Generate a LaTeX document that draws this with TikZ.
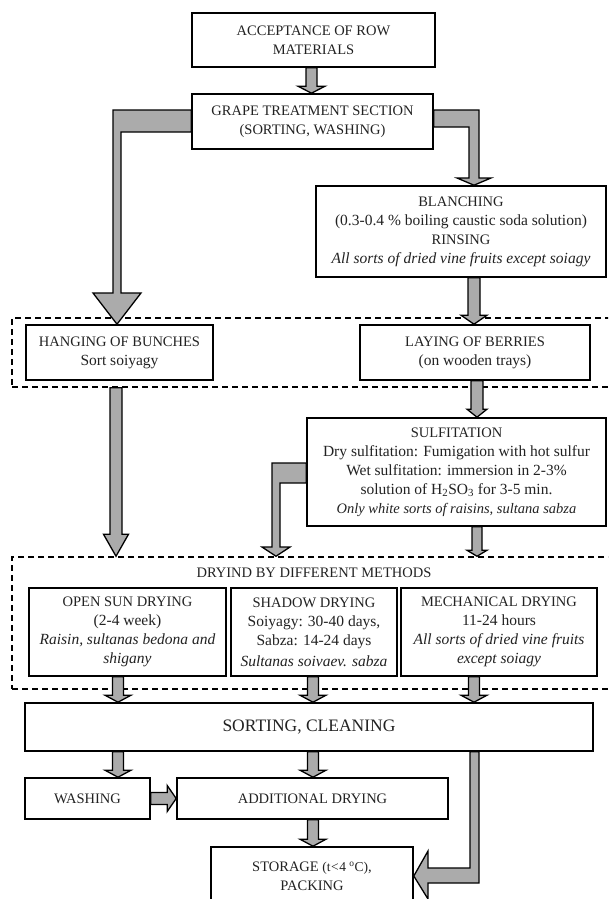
\documentclass[tikz,border=0pt]{standalone}
\usepackage{fontspec}
\setmainfont{Liberation Serif}
\usetikzlibrary{calc}
\definecolor{arrgray}{HTML}{ABABAB}
\definecolor{txt}{HTML}{222222}
\newcommand\lc{\fontsize{15.5}{19}\selectfont}
\tikzset{
  box/.style={draw=black, line width=1.6pt, fill=white, inner sep=0pt, align=center,
    text=txt, font=\fontsize{14.5}{19}\selectfont},
  dashbox/.style={draw=black, line width=1.5pt, dash pattern=on 6pt off 4pt, inner sep=0pt},
  arr/.style={draw=black, line width=1.3pt, fill=arrgray, line join=miter},
  lbl/.style={text=txt, font=\fontsize{14.5}{19}\selectfont, inner sep=0pt}
}
\newcommand\blockdown[5]{%
  \draw[arr] let \p1=(#1), \p2=(#2) in
  (\x1-#3pt,\y1) -- (\x1-#3pt,\y2+#5pt) -- (\x1-#4pt,\y2+#5pt) -- (\x1,\y2)
  -- (\x1+#4pt,\y2+#5pt) -- (\x1+#3pt,\y2+#5pt) -- (\x1+#3pt,\y1) -- cycle;}
\begin{document}
\begin{tikzpicture}[x=1pt,y=-1pt]
\useasboundingbox (0,0) rectangle (608,899);
\clip (0,0) rectangle (608,899);

% dashed groups
\node[dashbox, minimum width=600pt, minimum height=69pt] (d1) at (312,352.5) {};
\node[dashbox, minimum width=600pt, minimum height=132pt] (d2) at (312,623) {};

% boxes
\node[box, minimum width=243pt, minimum height=54pt] (acc) at (313.5,40) {ACCEPTANCE OF ROW\\MATERIALS};
\node[box, minimum width=241pt, minimum height=55pt] (grape) at (312.5,121.5) {GRAPE TREATMENT SECTION\\(SORTING, WASHING)};
\node[box, minimum width=290pt, minimum height=91pt] (blanch) at (461,231.5) {BLANCHING\\{\lc(0.3-0.4 \% boiling caustic soda solution)}\\RINSING\\{\lc\textit{All sorts of dried vine fruits except soiagy}}};
\node[box, minimum width=187pt, minimum height=55pt] (hang) at (119.5,352.5) {HANGING OF BUNCHES\\{\lc Sort soiyagy}};
\node[box, minimum width=230pt, minimum height=55pt] (lay) at (475,352.5) {LAYING OF BERRIES\\{\lc(on wooden trays)}};
\node[box, minimum width=299pt, minimum height=108pt] (sulf) at (456.5,472) {SULFITATION\\{\lc Dry sulfitation: Fumigation with hot sulfur}\\{\lc Wet sulfitation: immersion in 2-3\%}\\{\lc solution of H\textsubscript{2}SO\textsubscript{3} for 3-5 min.}\\{\fontsize{14.5}{19}\selectfont\textit{Only white sorts of raisins, sultana sabza}}};
\node[lbl] (title) at (314,573) {DRYIND BY DIFFERENT METHODS};
\node[box, minimum width=197pt, minimum height=88pt] (sun) at (127.5,632) {OPEN SUN DRYING\\{\lc(2-4 week)}\\{\lc\textit{Raisin, sultanas bedona and}}\\{\lc\textit{shigany}}};
\node[box, minimum width=166pt, minimum height=88pt] (shadow) at (314,632) {SHADOW DRYING\\{\lc Soiyagy: 30-40 days,}\\{\lc Sabza: 14-24 days}\\[2pt]{\lc\textit{Sultanas soivaev. sabza}}};
\node[box, minimum width=196pt, minimum height=88pt] (mech) at (499,632) {MECHANICAL DRYING\\{\lc 11-24 hours}\\{\lc\textit{All sorts of dried vine fruits}}\\{\lc\textit{except soiagy}}};
\node[box, minimum width=568pt, minimum height=48pt, font=\fontsize{17.5}{21}\selectfont] (sort) at (309,727) {SORTING, CLEANING};
\node[box, minimum width=125pt, minimum height=41pt] (wash) at (87.5,798.5) {WASHING};
\node[box, minimum width=271pt, minimum height=41pt] (add) at (312.5,798.5) {ADDITIONAL DRYING};
\node[box, minimum width=202pt, minimum height=58pt] (stor) at (312,876) {STORAGE {\fontsize{13.5}{15}\selectfont(t\kern0.5pt<\kern0.5pt4 \textsuperscript{o}C)},\\PACKING};

% column coordinates
\coordinate (cA) at (311.5,0);
\coordinate (cB) at (474,0);
\coordinate (cC) at (116,0);
\coordinate (cD) at (477,0);
\coordinate (c1) at (118,0);
\coordinate (c2) at (313,0);
\coordinate (c3) at (474,0);
\coordinate (cF) at (276,0);
\coordinate (cG) at (470,0);
\coordinate (cH) at (479,0);

% straight arrows
\blockdown{acc.south -| cA}{grape.north -| cA}{5.5}{13.5}{7}
\blockdown{blanch.south -| cB}{lay.north -| cB}{6}{13}{9}
\blockdown{d1.south -| cC}{d2.north -| cC}{6}{12.5}{22}
\blockdown{lay.south -| cD}{sulf.north -| cD}{6}{10}{8}
\blockdown{sulf.south -| cD}{d2.north -| cD}{5}{10}{6}
\blockdown{sun.south -| c1}{sort.north -| c1}{5.5}{13}{7}
\blockdown{shadow.south -| c2}{sort.north -| c2}{5.5}{13}{7}
\blockdown{mech.south -| c3}{sort.north -| c3}{5.5}{13}{7}
\blockdown{sort.south -| c1}{wash.north -| c1}{5.5}{13}{7}
\blockdown{sort.south -| c2}{add.north -| c2}{5.5}{13}{7}
\blockdown{add.south -| c2}{stor.north -| c2}{5.5}{13}{7}

% bent arrows
\draw[arr] ([yshift=11.5pt]grape.west) -- (113,110) -- (113,293) -- (93,293)
  -- ([xshift=-2.5pt]hang.north) -- (141,293) -- (121,293) -- (121,132)
  -- ([yshift=-10.5pt]grape.west) -- cycle;
\draw[arr] ([yshift=11.5pt]grape.east) -- (479,110) -- (479,178) -- (491,178)
  -- ([xshift=13pt]blanch.north) -- (457,178) -- (469,178) -- (469,127)
  -- ([yshift=-5.5pt]grape.east) -- cycle;
\draw[arr] ([yshift=9pt]sulf.west) -- (272,463) -- (272,547) -- (262,547)
  -- (d2.north -| cF) -- (290,547) -- (280,547) -- (280,483)
  -- ([yshift=-11pt]sulf.west) -- cycle;
\draw[arr] ([yshift=6pt]wash.east) -- ([xshift=-9pt,yshift=6pt]add.west)
  -- ([xshift=-9pt,yshift=13pt]add.west) -- (add.west)
  -- ([xshift=-9pt,yshift=-13pt]add.west) -- ([xshift=-9pt,yshift=-6pt]add.west)
  -- ([yshift=-6pt]wash.east) -- cycle;
\draw[arr] (sort.south -| cG) -- (470,868) -- (428,868) -- (428,851)
  -- (stor.east) -- (428,899) -- (428,883) -- (479,883)
  -- (sort.south -| cH) -- cycle;
\end{tikzpicture}
\end{document}
